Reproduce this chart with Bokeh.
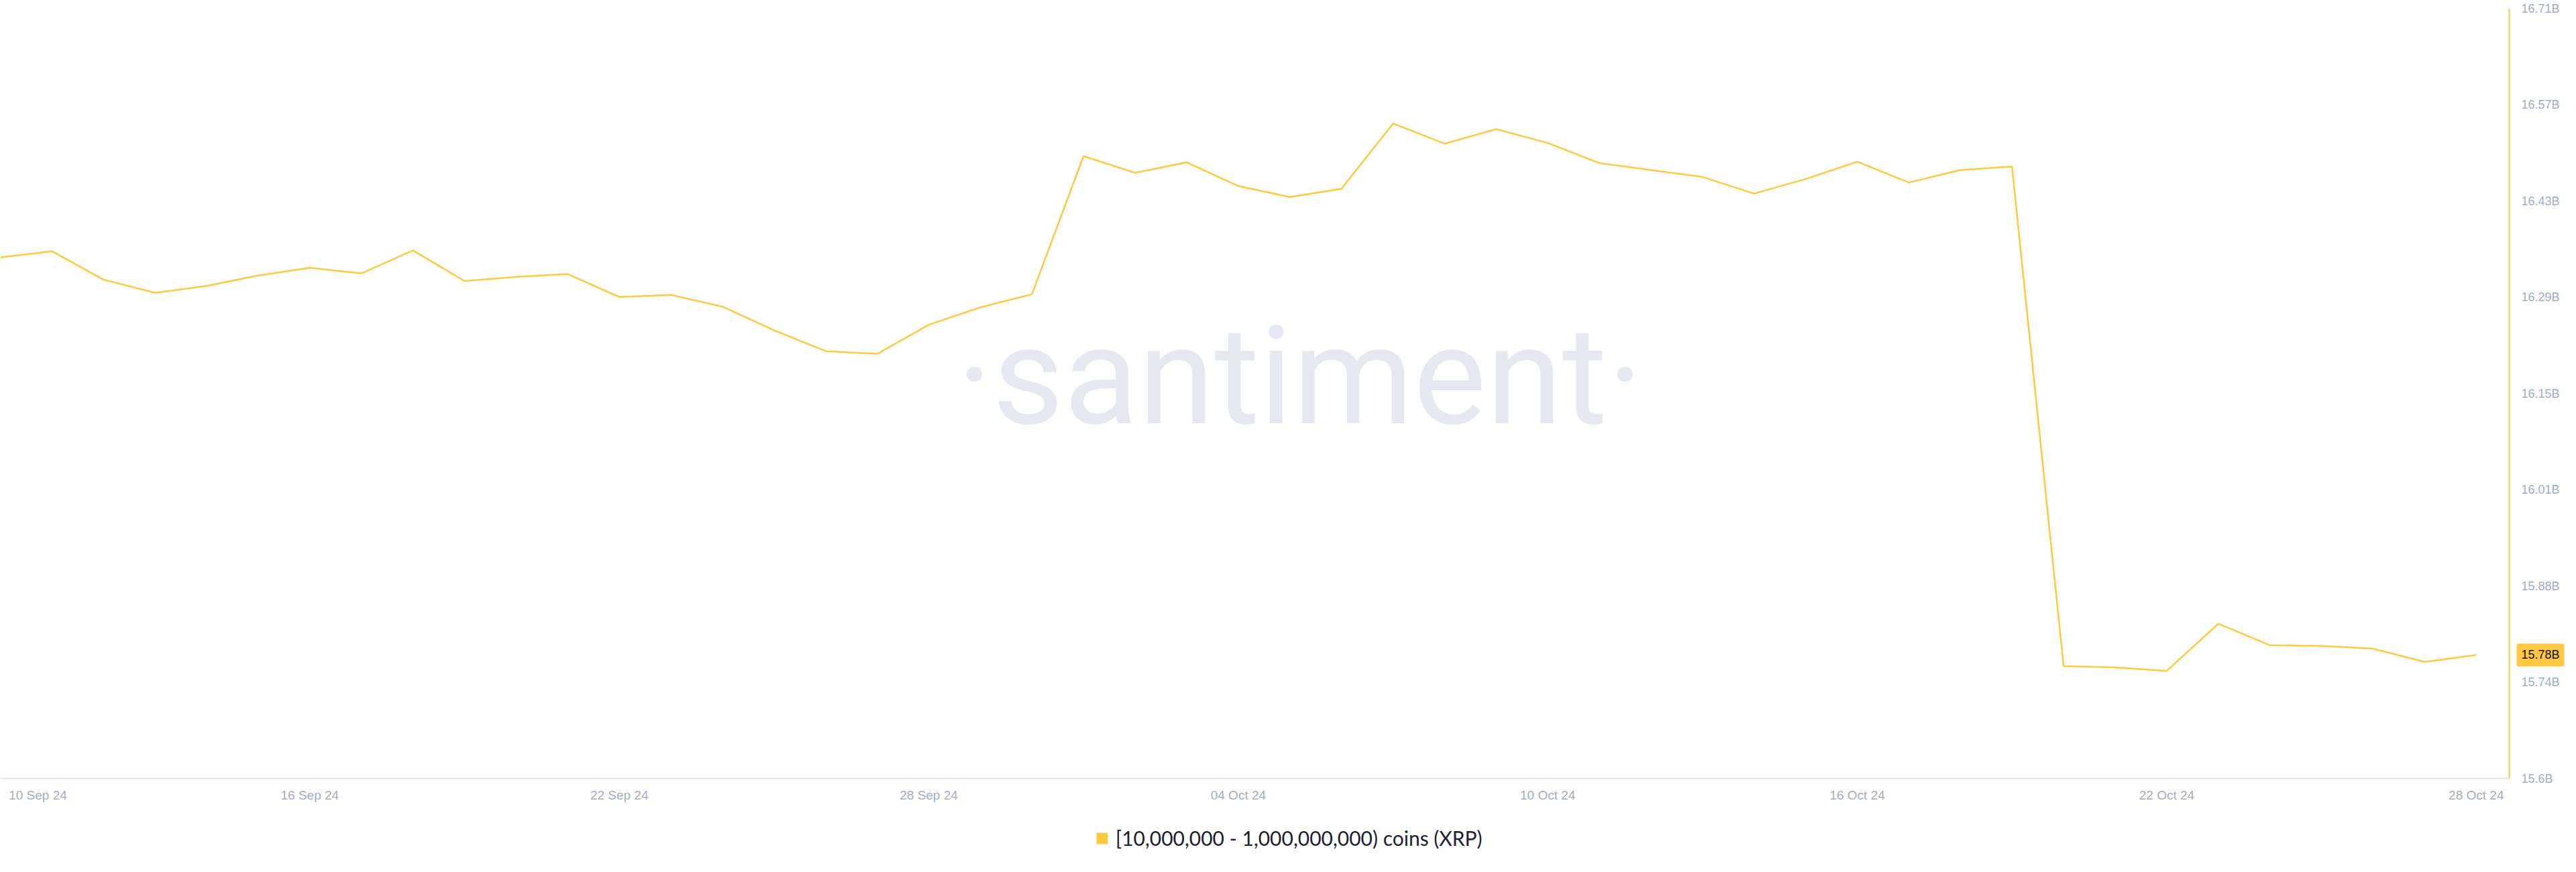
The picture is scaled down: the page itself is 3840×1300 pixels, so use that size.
import numpy as np
import pandas as pd
from bokeh.plotting import figure
from bokeh.models import (Range1d, FixedTicker, Label, Legend, LegendItem, ColumnDataSource)
from bokeh.embed import file_html
from bokeh.resources import INLINE

# ---------------- data ----------------
start_date = "2024-09-10"
# supply held by [10M - 1B) XRP wallets, in billions of XRP, one value per day
values_b = [
    16.351, 16.360, 16.319, 16.300, 16.310, 16.325, 16.336, 16.328, 16.361, 16.317,
    16.323, 16.327, 16.294, 16.297, 16.280, 16.246, 16.216, 16.212, 16.254, 16.279,
    16.298, 16.497, 16.473, 16.488, 16.454, 16.438, 16.450, 16.544, 16.515, 16.536,
    16.516, 16.487, 16.477, 16.467, 16.443, 16.464, 16.489, 16.459, 16.477, 16.482,
    15.762, 15.760, 15.755, 15.823, 15.792, 15.791, 15.787, 15.768, 15.778,
]
x_tick_dates = ["2024-09-10", "2024-09-16", "2024-09-22", "2024-09-28", "2024-10-04",
                "2024-10-10", "2024-10-16", "2024-10-22", "2024-10-28"]
x_tick_labels = ["10 Sep 24", "16 Sep 24", "22 Sep 24", "28 Sep 24", "04 Oct 24",
                 "10 Oct 24", "16 Oct 24", "22 Oct 24", "28 Oct 24"]
y_min, y_max = 15.6, 16.71
y_tick_labels = ["15.6B", "15.74B", "15.88B", "16.01B", "16.15B",
                 "16.29B", "16.43B", "16.57B", "16.71B"]
series_label = "[10,000,000 - 1,000,000,000) coins (XRP)"
last_value_label = "15.78B"

# ---------------- styles / layout ----------------
YELLOW = "#FFC840"
AXIS_TEXT = "#A3ABC3"
DAY_MS = 86400000.0
W, H = 3824, 1284
TOP = 12              # px from canvas top to y_max
PLOT_W = 3740         # px from frame left to the right (value) axis line
PLOT_H = 1148         # px from y_max to y_min

dates = pd.date_range(start_date, periods=len(values_b), freq="D")
x_ms = (dates.values.astype("datetime64[ms]").astype("int64")).astype(float)
src = ColumnDataSource(dict(x=x_ms, y=values_b))

x_start = x_ms[0]
axis_end = x_ms[-1] + 0.64 * DAY_MS
view_end = x_start + (axis_end - x_start) * W / PLOT_W
px_per_unit = PLOT_H / (y_max - y_min)
y_view_max = y_max + TOP / px_per_unit
y_view_min = y_max - (H - TOP) / px_per_unit

p = figure(width=W, height=H, x_axis_type="datetime", y_axis_location="right",
           x_range=Range1d(x_start, view_end), y_range=Range1d(y_view_min, y_view_max),
           output_backend="svg", toolbar_location=None,
           min_border_left=0, min_border_right=0, min_border_top=0, min_border_bottom=0)
p.background_fill_color = "white"
p.border_fill_color = "white"
p.outline_line_color = None
p.xgrid.visible = False
p.ygrid.visible = False

# watermark
p.add_layout(Label(x=x_start + 0.518 * (axis_end - x_start), y=16.18, text="·santiment·",
                   text_align="center", text_baseline="alphabetic",
                   text_font="Roboto", text_font_size="205px", text_color="#E6E8F1",
                   level="underlay"))

# main line
p.line("x", "y", source=src, line_color=YELLOW, line_width=2.5)

# legend swatch (zero-area quad at last point, only used for the legend icon)
sw_src = ColumnDataSource(dict(l=[x_ms[-1]], r=[x_ms[-1]], t=[values_b[-1]], b=[values_b[-1]]))
sw = p.quad(left="l", right="r", top="t", bottom="b", source=sw_src,
            fill_color=YELLOW, line_color=None)

# x axis, pinned at y_min
xt = [float(np.datetime64(d, "ms").astype("int64")) for d in x_tick_dates]
xt[0] = xt[0] + 0.728 * DAY_MS  # keep first label inside the frame
xa = p.xaxis[0]
xa.fixed_location = y_min
xa.bounds = (x_start, axis_end)
xa.ticker = FixedTicker(ticks=xt)
xa.major_label_overrides = {t: lab for t, lab in zip(xt, x_tick_labels)}
xa.axis_line_color = "#E3E6EE"
xa.axis_line_width = 2
xa.major_tick_line_color = None
xa.minor_tick_line_color = None
xa.major_label_standoff = 8
xa.major_label_text_font = "Liberation Sans"
xa.major_label_text_font_size = "19px"
xa.major_label_text_color = AXIS_TEXT

# y axis (right), pinned at the end of the data span
yt = list(np.linspace(y_min, y_max, len(y_tick_labels)))
ya = p.yaxis[0]
ya.fixed_location = axis_end
ya.bounds = (y_min, y_max)
ya.ticker = FixedTicker(ticks=yt)
ya.major_label_overrides = {t: lab for t, lab in zip(yt, y_tick_labels)}
ya.axis_line_color = YELLOW
ya.axis_line_width = 2
ya.major_tick_line_color = None
ya.minor_tick_line_color = None
ya.major_label_standoff = 12
ya.major_label_text_font = "Liberation Sans"
ya.major_label_text_font_size = "18px"
ya.major_label_text_color = AXIS_TEXT

# last value badge, just right of the value axis line
p.add_layout(Label(x=axis_end, y=values_b[-1], x_offset=13, text=last_value_label,
                   text_align="left", text_baseline="middle",
                   text_font="Liberation Sans", text_font_size="18px",
                   text_color="#111111", background_fill_color=YELLOW,
                   border_line_color=YELLOW, border_line_width=4, padding=5))

# legend below the x axis (screen units from the frame's bottom-left corner)
legend = Legend(items=[LegendItem(label=series_label, renderers=[sw])],
                location=(1632, 17), orientation="horizontal",
                glyph_width=21, glyph_height=21, label_standoff=10,
                label_text_font="Lato", label_text_font_size="30px",
                label_text_color="#1C2033", border_line_color=None,
                background_fill_alpha=0, padding=10, margin=0)
p.add_layout(legend, "center")

open("out.html", "w").write(file_html(p, INLINE))
